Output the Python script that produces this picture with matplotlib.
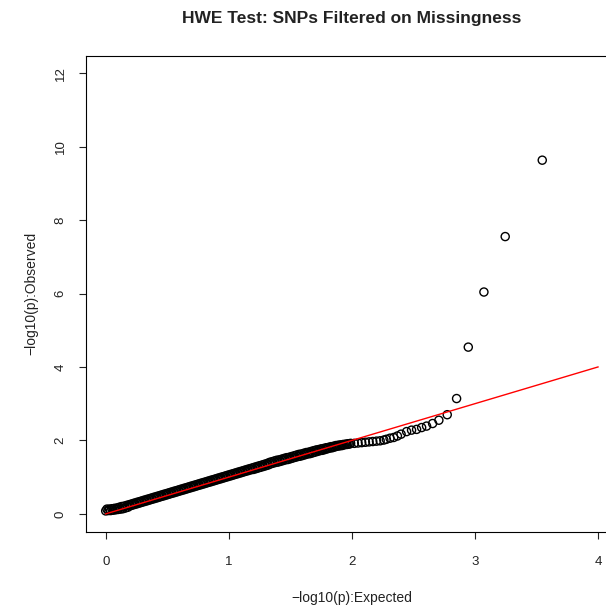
import matplotlib
matplotlib.use("Agg")
import matplotlib.pyplot as plt
import numpy as np

plt.rcParams['font.family'] = ['Liberation Sans', 'DejaVu Sans']

# bulk of the QQ band: lower edge, read every 0.02 along the expected axis
bulk_expected = np.round(np.arange(0, 100) * 0.02, 2)
bulk_observed = [
    0.08, 0.09, 0.09, 0.10, 0.11, 0.12, 0.13, 0.14, 0.16, 0.18,
    0.22, 0.24, 0.26, 0.28, 0.30, 0.32, 0.34, 0.36, 0.38, 0.40,
    0.42, 0.44, 0.46, 0.48, 0.50, 0.52, 0.54, 0.56, 0.58, 0.60,
    0.62, 0.64, 0.66, 0.68, 0.70, 0.72, 0.74, 0.76, 0.78, 0.80,
    0.82, 0.84, 0.86, 0.88, 0.90, 0.92, 0.94, 0.96, 0.98, 1.00,
    1.02, 1.04, 1.06, 1.08, 1.10, 1.12, 1.14, 1.16, 1.18, 1.20,
    1.21, 1.23, 1.25, 1.27, 1.29, 1.31, 1.33, 1.36, 1.38, 1.40,
    1.41, 1.43, 1.45, 1.47, 1.48, 1.50, 1.52, 1.54, 1.56, 1.57,
    1.59, 1.61, 1.63, 1.64, 1.66, 1.68, 1.70, 1.72, 1.73, 1.75,
    1.77, 1.79, 1.80, 1.82, 1.84, 1.85, 1.86, 1.88, 1.89, 1.90,
]

# upper edge of the band, read halfway between the points above
bulk_upper_expected = np.round(np.arange(0, 100) * 0.02 + 0.01, 2)
bulk_upper_observed = [
    0.13, 0.13, 0.14, 0.15, 0.16, 0.18, 0.20, 0.21, 0.23, 0.25,
    0.27, 0.29, 0.31, 0.33, 0.35, 0.37, 0.39, 0.41, 0.43, 0.45,
    0.47, 0.49, 0.51, 0.53, 0.55, 0.57, 0.59, 0.61, 0.63, 0.65,
    0.67, 0.69, 0.71, 0.73, 0.75, 0.77, 0.79, 0.81, 0.83, 0.85,
    0.87, 0.89, 0.91, 0.93, 0.95, 0.97, 0.99, 1.01, 1.03, 1.05,
    1.07, 1.09, 1.11, 1.13, 1.15, 1.17, 1.19, 1.21, 1.23, 1.25,
    1.27, 1.29, 1.31, 1.33, 1.35, 1.37, 1.40, 1.42, 1.44, 1.46,
    1.47, 1.49, 1.51, 1.53, 1.54, 1.56, 1.58, 1.60, 1.62, 1.63,
    1.65, 1.67, 1.68, 1.70, 1.72, 1.74, 1.75, 1.77, 1.78, 1.80,
    1.81, 1.83, 1.84, 1.86, 1.87, 1.88, 1.89, 1.90, 1.91, 1.92,
]

# sparse upper tail
tail_expected = [2.02, 2.05, 2.08, 2.11, 2.14, 2.17, 2.20, 2.23, 2.26, 2.28,
                 2.31, 2.34, 2.37, 2.40, 2.445, 2.485, 2.526, 2.567, 2.607,
                 2.656, 2.707, 2.775, 2.851, 2.946, 3.073, 3.246, 3.547]
tail_observed = [1.92, 1.93, 1.94, 1.95, 1.96, 1.97, 1.98, 1.99, 2.01, 2.03,
                 2.06, 2.08, 2.12, 2.17, 2.24, 2.28, 2.30, 2.35, 2.39,
                 2.46, 2.55, 2.70, 3.14, 4.54, 6.04, 7.55, 9.63]

expected = np.concatenate([bulk_expected, bulk_upper_expected, tail_expected])
observed = np.concatenate([bulk_observed, bulk_upper_observed, tail_observed])

line_x = [0, 4]
line_y = [0, 4]
x_ticks = [0, 1, 2, 3, 4]
y_ticks = [0, 2, 4, 6, 8, 10, 12]

fig = plt.figure(figsize=(6.06, 6.07), dpi=100)
# right edge of the plot box runs past the figure, as in the original
ax = fig.add_axes([86 / 606, 1 - 531.5 / 607, (617.7 - 86) / 606, (531.5 - 55.5) / 607])

ax.scatter(expected, observed, s=34, facecolors='none', edgecolors='black',
           linewidths=1.0, zorder=2)
ax.plot(line_x, line_y, color='red', linewidth=1.0, zorder=3)

ax.set_xlim(-0.16, 4.16)
ax.set_ylim(-0.48, 12.48)
ax.set_xticks(x_ticks)
ax.set_yticks(y_ticks)
ax.set_yticklabels([str(v) for v in y_ticks], rotation=90, va='center')
ax.tick_params(direction='out', length=5, width=0.8, labelsize=9.5, colors='#222222')
ax.tick_params(axis='x', pad=12.5)
ax.tick_params(axis='y', pad=9)
for sp in ax.spines.values():
    sp.set_linewidth(0.8)

ax.set_xlabel('\u2212log10(p):Expected', fontsize=10, labelpad=16.5, color='#222222')
ax.set_ylabel('\u2212log10(p):Observed', fontsize=10, labelpad=12, color='#222222')
ax.set_title('HWE Test: SNPs Filtered on Missingness', fontsize=12.5,
             fontweight='bold', pad=23.5, color='#222222')

fig.savefig('out.png', dpi=100)
